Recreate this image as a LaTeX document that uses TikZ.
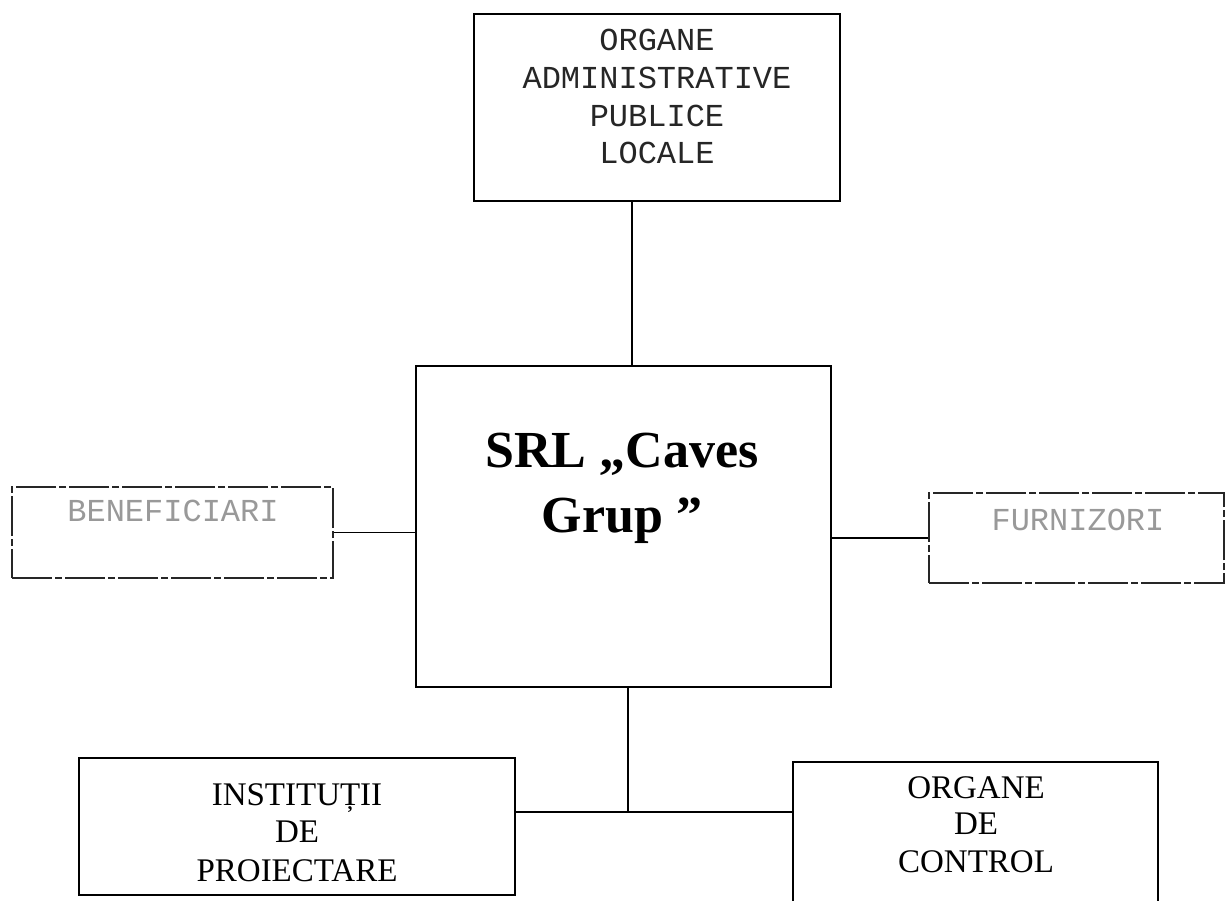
\documentclass[tikz,border=0pt]{standalone}
\usepackage{fontspec}
\setmainfont{Liberation Serif}
\newfontfamily\monofont{Liberation Mono}
\begin{document}
\begin{tikzpicture}[x=1pt,y=-1pt,
  box/.style={draw, line width=1.5pt, inner sep=0pt},
  faintbox/.style={draw=black!85, line width=1.3pt, inner sep=0pt, dash pattern=on 40pt off 3pt on 7pt off 3pt},
  monotxt/.style={font=\monofont\fontsize{32}{38}\selectfont, anchor=base, inner sep=0pt, text=black!85},
  fainttxt/.style={monotxt, text=black!40},
  seriftxt/.style={font=\fontsize{33}{38}\selectfont, anchor=base, inner sep=0pt},
  titletxt/.style={font=\bfseries\fontsize{52}{62}\selectfont, anchor=base, inner sep=0pt},
  link/.style={line width=1.5pt}]
\clip (0,0) rectangle (1231,901);
\fill[white] (0,0) rectangle (1231,901);

% boxes
\node[box, minimum width=366pt, minimum height=187pt] (top) at (657,107.5) {};
\node[box, minimum width=415pt, minimum height=321pt] (ctr) at (623.5,526.5) {};
\node[faintbox, minimum width=321pt, minimum height=91pt] (ben) at (172.5,532.5) {};
\node[faintbox, minimum width=295pt, minimum height=90pt] (fur) at (1076.5,538) {};
\node[box, minimum width=436pt, minimum height=137pt] (inst) at (297,826.5) {};
\node[box, minimum width=365pt, minimum height=146pt] (ctrl) at (975.5,835) {};

% texts
\node[monotxt] (t1) at (657,51) {ORGANE};
\node[monotxt] (t2) at (657,89) {ADMINISTRATIVE};
\node[monotxt] (t3) at (657,127) {PUBLICE};
\node[monotxt] (t4) at (657,164) {LOCALE};

\node[titletxt] (c1) at (622,467) {SRL „Caves};
\node[titletxt] (c2) at (622,532) {Grup ”};

\node[fainttxt] (b1) at (173,521) {BENEFICIARI};
\node[fainttxt] (f1) at (1078,530) {FURNIZORI};

\node[seriftxt] (i1) at (297,805) {INSTITUȚII};
\node[seriftxt] (i2) at (297,842) {DE};
\node[seriftxt] (i3) at (297,881) {PROIECTARE};

\node[seriftxt] (o1) at (976,798) {ORGANE};
\node[seriftxt] (o2) at (976,834) {DE};
\node[seriftxt] (o3) at (976,872) {CONTROL};

% connectors
\draw[link] ([xshift=-25pt]top.south) -- ([xshift=-25pt]top.south |- ctr.north);
\draw[link] (ben.east) -- (ben.east -| ctr.west);
\draw[link] (fur.west) -- (fur.west -| ctr.east);
\coordinate (j) at (628,812);
\draw[link] (ctr.south -| j) -- (j);
\draw[link] (inst.east |- j) -- (ctrl.west |- j);
\end{tikzpicture}
\end{document}
